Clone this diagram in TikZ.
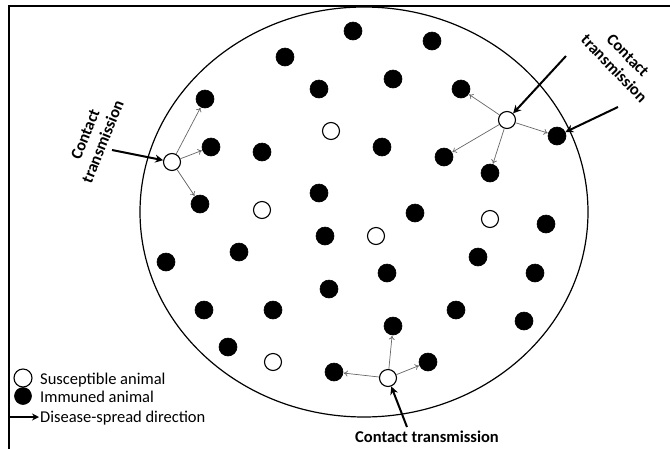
\documentclass[tikz,border=0pt]{standalone}
\usepackage{fontspec}
\setmainfont{Carlito}
\usetikzlibrary{arrows.meta}
\begin{document}
\begin{tikzpicture}[x=1pt,y=-1pt,
  imm/.style={circle,fill=black,draw=black,line width=0.6pt,minimum size=18pt,inner sep=0pt},
  sus/.style={circle,fill=white,draw=black,line width=1.1pt,minimum size=17pt,inner sep=0pt},
  spread/.style={draw=black!60,line width=0.7pt,-{To[length=4pt,width=6pt]},shorten >=0.5pt},
  contact/.style={draw=black,line width=2pt,-{Stealth[length=8pt,width=8pt]}},
  lbl/.style={font=\fontsize{16.5}{19}\selectfont\bfseries,inner sep=0pt,align=center},
  leg/.style={font=\fontsize{16.5}{19}\selectfont,inner sep=0pt,anchor=base west}]
\useasboundingbox (0,0) rectangle (670,448);
% frame
\draw[line width=2pt] (8.5,449) -- (8.5,6) -- (671,6);
% herd boundary
\draw[line width=1.2pt] (364,212) ellipse [x radius=224pt, y radius=205pt];
% immune animals
\foreach \n/\x/\y in {1/353/31,2/432/41,3/285/57,4/319/89,5/393/79,6/461/89,7/205/99,
  8/211/147,9/262/152,10/382/147,11/444/157,12/557/136,13/490/173,14/200/204,
  15/319/193,16/415/213,17/546/224,18/325/236,19/166/262,20/239/252,21/478/257,
  22/535/273,23/387/273,24/329/289,25/204/310,26/273/310,27/456/310,28/524/321,
  29/393/326,30/228/347,31/334/372,32/428/362}
  \node[imm] (i\n) at (\x,\y) {};
% susceptible animals
\foreach \n/\x/\y in {1/331/131,2/172/162,3/262/210,4/507/120,5/376/236,6/490/219,7/273/362,8/388/378}
  \node[sus] (s\n) at (\x,\y) {};
% spread arrows
\foreach \a/\b in {s2/i7,s2/i8,s2/i14,s4/i6,s4/i12,s4/i11,s4/i13,s8/i31,s8/i29,s8/i32}
  \draw[spread] (\a) -- (\b);
% contact transmission arrows
\coordinate (tL) at (112,150);
\coordinate (tR1) at (566,56);
\coordinate (tR2) at (618,107);
\coordinate (tB) at (407,427);
\draw[contact] (tL) -- (s2);
\draw[contact] (tR1) -- (s4);
\draw[contact] (tR2) -- (i12);
\draw[contact] (tB) -- (s8);
% labels
\node[lbl,rotate=68] (cL) at (94,138) {Contact\\transmission};
\node[lbl,rotate=-46] (cR) at (621,62) {Contact\\transmission};
\node[lbl,anchor=base] (cB) at (427,442) {Contact transmission};
% legend
\node[sus,minimum size=18pt] (lgs) at (23,378) {};
\node[imm,minimum size=17pt] (lgi) at (23,396) {};
\coordinate (la1) at (10,417);
\coordinate (la2) at (39,417);
\draw[line width=1.5pt,-{Stealth[length=7pt,width=7pt]}] (la1) -- (la2);
\node[leg] (lt1) at (40,384) {Susceptible animal};
\node[leg] (lt2) at (40,402) {Immuned animal};
\node[leg] (lt3) at (40,422) {Disease-spread direction};
\end{tikzpicture}
\end{document}
